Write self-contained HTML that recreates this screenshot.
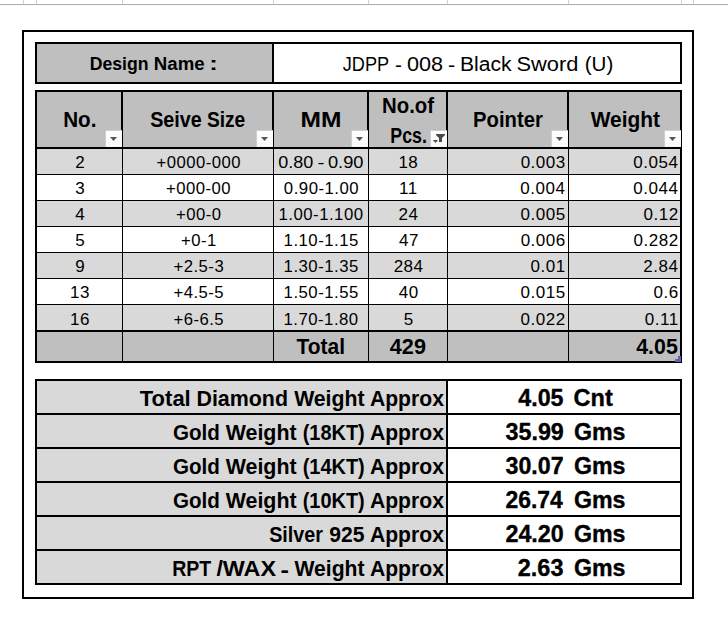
<!DOCTYPE html>
<html>
<head>
<meta charset="utf-8">
<title>Sheet</title>
<style>
html,body{margin:0;padding:0;background:#fff;}
#s{position:relative;width:728px;height:640px;overflow:hidden;background:#fff;font-family:"Liberation Sans", sans-serif;color:#000;}
#s i{position:absolute;display:block;}
#s b,#s u{position:absolute;display:block;white-space:pre;line-height:1;transform-origin:0 0;text-decoration:none;}
#s u{font-weight:normal;}
#s b{font-weight:bold;}
#s .fb{position:absolute;width:17px;height:17px;box-sizing:border-box;border-left:1px solid #cecece;border-top:1px solid #cecece;background:linear-gradient(#ffffff,#f6f6f6);}
#s .fb svg{position:absolute;left:0;top:0;}
</style>
</head>
<body>
<div id="s">
<i style="left:23px;top:0px;width:1px;height:4px;background:#d2d2d2"></i>
<i style="left:36px;top:0px;width:1px;height:4px;background:#d2d2d2"></i>
<i style="left:122px;top:0px;width:1px;height:4px;background:#d2d2d2"></i>
<i style="left:273px;top:0px;width:1px;height:4px;background:#d2d2d2"></i>
<i style="left:368px;top:0px;width:1px;height:4px;background:#d2d2d2"></i>
<i style="left:447px;top:0px;width:1px;height:4px;background:#d2d2d2"></i>
<i style="left:568px;top:0px;width:1px;height:4px;background:#d2d2d2"></i>
<i style="left:681px;top:0px;width:1px;height:4px;background:#d2d2d2"></i>
<i style="left:693px;top:0px;width:1px;height:4px;background:#d2d2d2"></i>
<i style="left:0px;top:4px;width:728px;height:1px;background:#ababab"></i>
<i style="left:22px;top:30px;width:672px;height:2px;background:#000"></i>
<i style="left:22px;top:597px;width:672px;height:2px;background:#000"></i>
<i style="left:22px;top:30px;width:2px;height:569px;background:#000"></i>
<i style="left:692px;top:30px;width:2px;height:569px;background:#000"></i>
<i style="left:35px;top:42px;width:647px;height:42px;background:#000"></i>
<i style="left:37px;top:44px;width:235px;height:38px;background:#bfbfbf"></i>
<i style="left:274px;top:44px;width:406px;height:38px;background:#fff"></i>
<i style="left:35px;top:90px;width:647px;height:273px;background:#000"></i>
<i style="left:37px;top:92px;width:84px;height:55px;background:#bfbfbf"></i>
<i style="left:123px;top:92px;width:149px;height:55px;background:#bfbfbf"></i>
<i style="left:274px;top:92px;width:93px;height:55px;background:#bfbfbf"></i>
<i style="left:369px;top:92px;width:77px;height:55px;background:#bfbfbf"></i>
<i style="left:448px;top:92px;width:119px;height:55px;background:#bfbfbf"></i>
<i style="left:569px;top:92px;width:111px;height:55px;background:#bfbfbf"></i>
<i style="left:37px;top:149px;width:85px;height:25px;background:#d9d9d9"></i>
<i style="left:123px;top:149px;width:150px;height:25px;background:#d9d9d9"></i>
<i style="left:274px;top:149px;width:94px;height:25px;background:#d9d9d9"></i>
<i style="left:369px;top:149px;width:78px;height:25px;background:#d9d9d9"></i>
<i style="left:448px;top:149px;width:120px;height:25px;background:#d9d9d9"></i>
<i style="left:569px;top:149px;width:111px;height:25px;background:#d9d9d9"></i>
<i style="left:37px;top:175px;width:85px;height:25px;background:#fff"></i>
<i style="left:123px;top:175px;width:150px;height:25px;background:#fff"></i>
<i style="left:274px;top:175px;width:94px;height:25px;background:#fff"></i>
<i style="left:369px;top:175px;width:78px;height:25px;background:#fff"></i>
<i style="left:448px;top:175px;width:120px;height:25px;background:#fff"></i>
<i style="left:569px;top:175px;width:111px;height:25px;background:#fff"></i>
<i style="left:37px;top:201px;width:85px;height:25px;background:#d9d9d9"></i>
<i style="left:123px;top:201px;width:150px;height:25px;background:#d9d9d9"></i>
<i style="left:274px;top:201px;width:94px;height:25px;background:#d9d9d9"></i>
<i style="left:369px;top:201px;width:78px;height:25px;background:#d9d9d9"></i>
<i style="left:448px;top:201px;width:120px;height:25px;background:#d9d9d9"></i>
<i style="left:569px;top:201px;width:111px;height:25px;background:#d9d9d9"></i>
<i style="left:37px;top:227px;width:85px;height:25px;background:#fff"></i>
<i style="left:123px;top:227px;width:150px;height:25px;background:#fff"></i>
<i style="left:274px;top:227px;width:94px;height:25px;background:#fff"></i>
<i style="left:369px;top:227px;width:78px;height:25px;background:#fff"></i>
<i style="left:448px;top:227px;width:120px;height:25px;background:#fff"></i>
<i style="left:569px;top:227px;width:111px;height:25px;background:#fff"></i>
<i style="left:37px;top:253px;width:85px;height:25px;background:#d9d9d9"></i>
<i style="left:123px;top:253px;width:150px;height:25px;background:#d9d9d9"></i>
<i style="left:274px;top:253px;width:94px;height:25px;background:#d9d9d9"></i>
<i style="left:369px;top:253px;width:78px;height:25px;background:#d9d9d9"></i>
<i style="left:448px;top:253px;width:120px;height:25px;background:#d9d9d9"></i>
<i style="left:569px;top:253px;width:111px;height:25px;background:#d9d9d9"></i>
<i style="left:37px;top:279px;width:85px;height:25px;background:#fff"></i>
<i style="left:123px;top:279px;width:150px;height:25px;background:#fff"></i>
<i style="left:274px;top:279px;width:94px;height:25px;background:#fff"></i>
<i style="left:369px;top:279px;width:78px;height:25px;background:#fff"></i>
<i style="left:448px;top:279px;width:120px;height:25px;background:#fff"></i>
<i style="left:569px;top:279px;width:111px;height:25px;background:#fff"></i>
<i style="left:37px;top:305px;width:85px;height:25px;background:#d9d9d9"></i>
<i style="left:123px;top:305px;width:150px;height:25px;background:#d9d9d9"></i>
<i style="left:274px;top:305px;width:94px;height:25px;background:#d9d9d9"></i>
<i style="left:369px;top:305px;width:78px;height:25px;background:#d9d9d9"></i>
<i style="left:448px;top:305px;width:120px;height:25px;background:#d9d9d9"></i>
<i style="left:569px;top:305px;width:111px;height:25px;background:#d9d9d9"></i>
<i style="left:37px;top:332px;width:85px;height:29px;background:#bfbfbf"></i>
<i style="left:123px;top:332px;width:150px;height:29px;background:#bfbfbf"></i>
<i style="left:274px;top:332px;width:94px;height:29px;background:#bfbfbf"></i>
<i style="left:369px;top:332px;width:78px;height:29px;background:#bfbfbf"></i>
<i style="left:448px;top:332px;width:120px;height:29px;background:#bfbfbf"></i>
<i style="left:569px;top:332px;width:111px;height:29px;background:#bfbfbf"></i>
<i style="left:35px;top:379px;width:647px;height:206px;background:#000"></i>
<i style="left:37px;top:381px;width:409px;height:32px;background:#d9d9d9"></i>
<i style="left:448px;top:381px;width:232px;height:32px;background:#fff"></i>
<i style="left:37px;top:415px;width:409px;height:32px;background:#d9d9d9"></i>
<i style="left:448px;top:415px;width:232px;height:32px;background:#fff"></i>
<i style="left:37px;top:449px;width:409px;height:32px;background:#d9d9d9"></i>
<i style="left:448px;top:449px;width:232px;height:32px;background:#fff"></i>
<i style="left:37px;top:483px;width:409px;height:32px;background:#d9d9d9"></i>
<i style="left:448px;top:483px;width:232px;height:32px;background:#fff"></i>
<i style="left:37px;top:517px;width:409px;height:32px;background:#d9d9d9"></i>
<i style="left:448px;top:517px;width:232px;height:32px;background:#fff"></i>
<i style="left:37px;top:551px;width:409px;height:32px;background:#d9d9d9"></i>
<i style="left:448px;top:551px;width:232px;height:32px;background:#fff"></i>
<div class="fb" style="left:105px;top:130px"><svg width="16" height="16" viewBox="0 0 16 16"><path d="M4 6h7l-3.5 4z" fill="#555"/></svg></div>
<div class="fb" style="left:256px;top:130px"><svg width="16" height="16" viewBox="0 0 16 16"><path d="M4 6h7l-3.5 4z" fill="#555"/></svg></div>
<div class="fb" style="left:351px;top:130px"><svg width="16" height="16" viewBox="0 0 16 16"><path d="M4 6h7l-3.5 4z" fill="#555"/></svg></div>
<div class="fb" style="left:430px;top:130px"><svg width="16" height="16" viewBox="0 0 16 16"><path d="M5 3h9v1l-3 3v4h-3v-4l-3-3z" fill="#4a4a4a"/><path d="M2 9h5l-2.5 3z" fill="#4a4a4a"/></svg></div>
<div class="fb" style="left:551px;top:130px"><svg width="16" height="16" viewBox="0 0 16 16"><path d="M4 6h7l-3.5 4z" fill="#555"/></svg></div>
<div class="fb" style="left:664px;top:130px"><svg width="16" height="16" viewBox="0 0 16 16"><path d="M4 6h7l-3.5 4z" fill="#555"/></svg></div>
<i style="left:678px;top:356px;width:3px;height:6px;background:#5b66a8"></i>
<i style="left:675px;top:359px;width:6px;height:3px;background:#5b66a8"></i>
<b style="left:89px;top:55px;font-size:18.90px;transform:translateX(0.72px) scaleX(0.9347)">Design</b>
<b style="left:153px;top:55px;font-size:18.90px;transform:translateX(0.82px) scaleX(0.9860)">Name</b>
<b style="left:209px;top:55px;font-size:18.90px;transform:translateX(0.27px) scaleX(1.3603)">:</b>
<u style="left:342px;top:54px;font-size:20.35px;transform:translateX(0.78px) scaleX(0.8911)">JDPP</u>
<u style="left:394px;top:55px;font-size:20.35px;transform:translateX(1.00px) scaleX(1.0183)">-</u>
<u style="left:406px;top:54px;font-size:20.35px;transform:translateX(0.90px) scaleX(1.0626)">008</u>
<u style="left:447px;top:55px;font-size:20.35px;transform:translateX(0.97px) scaleX(1.0622)">-</u>
<u style="left:459px;top:54px;font-size:20.35px;transform:translateX(1.00px) scaleX(1.0365)">Black</u>
<u style="left:516px;top:54px;font-size:20.35px;transform:translateX(0.50px) scaleX(1.0746)">Sword</u>
<u style="left:584px;top:54px;font-size:20.35px;transform:translateX(0.72px) scaleX(1.0095)">(U)</u>
<b style="left:63px;top:109px;font-size:22.00px;transform:translateX(0.16px) scaleX(0.9389)">No.</b>
<b style="left:150px;top:109px;font-size:22.00px;transform:translateX(0.14px) scaleX(0.8979)">Seive</b>
<b style="left:206px;top:109px;font-size:22.00px;transform:translateX(0.94px) scaleX(0.8709)">Size</b>
<b style="left:300px;top:109px;font-size:22.00px;transform:translateX(0.55px) scaleX(1.1159)">MM</b>
<b style="left:382px;top:95px;font-size:22.00px;transform:translateX(0.02px) scaleX(0.9254)">No.of</b>
<b style="left:390px;top:125px;font-size:22.00px;transform:translateX(0.35px) scaleX(0.8078)">Pcs.</b>
<b style="left:473px;top:109px;font-size:22.00px;transform:translateX(0.07px) scaleX(0.9202)">Pointer</b>
<b style="left:590px;top:109px;font-size:22.00px;transform:translateX(0.71px) scaleX(0.9512)">Weight</b>
<u style="left:75px;top:154px;font-size:17.00px;transform:translateX(0.22px);letter-spacing:0.50px">2</u>
<u style="left:156px;top:154px;font-size:17.00px;transform:translateX(0.48px) scaleX(0.9800);letter-spacing:0.50px">+0000-000</u>
<u style="left:278px;top:154px;font-size:17.00px;transform:translateX(0.31px) scaleX(1.0583)">0.80</u>
<u style="left:317px;top:154px;font-size:17.00px;transform:translateX(0.54px) scaleX(1.2431)">-</u>
<u style="left:327px;top:154px;font-size:17.00px;transform:translateX(0.98px) scaleX(1.0726)">0.90</u>
<u style="left:398px;top:154px;font-size:17.00px;transform:translateX(0.39px);letter-spacing:0.50px">18</u>
<u style="left:520px;top:154px;font-size:17.00px;transform:translateX(0.63px);letter-spacing:0.50px">0.003</u>
<u style="left:633px;top:154px;font-size:17.00px;transform:translateX(0.34px);letter-spacing:0.50px">0.054</u>
<u style="left:75px;top:180px;font-size:17.00px;transform:translateX(0.24px);letter-spacing:0.50px">3</u>
<u style="left:166px;top:180px;font-size:17.00px;transform:translateX(0.02px) scaleX(0.9800);letter-spacing:0.50px">+000-00</u>
<u style="left:283px;top:180px;font-size:17.00px;transform:translateX(0.87px) scaleX(0.9850);letter-spacing:0.50px">0.90-1.00</u>
<u style="left:399px;top:180px;font-size:17.00px;transform:translateX(0.11px);letter-spacing:0.50px">11</u>
<u style="left:520px;top:180px;font-size:17.00px;transform:translateX(0.34px);letter-spacing:0.50px">0.004</u>
<u style="left:633px;top:180px;font-size:17.00px;transform:translateX(0.34px);letter-spacing:0.50px">0.044</u>
<u style="left:75px;top:206px;font-size:17.00px;transform:translateX(0.35px);letter-spacing:0.50px">4</u>
<u style="left:175px;top:206px;font-size:17.00px;transform:translateX(0.97px) scaleX(0.9800);letter-spacing:0.50px">+00-0</u>
<u style="left:278px;top:206px;font-size:17.00px;transform:translateX(0.52px) scaleX(0.9850);letter-spacing:0.50px">1.00-1.100</u>
<u style="left:398px;top:206px;font-size:17.00px;transform:translateX(0.60px);letter-spacing:0.50px">24</u>
<u style="left:520px;top:206px;font-size:17.00px;transform:translateX(0.55px);letter-spacing:0.50px">0.005</u>
<u style="left:643px;top:206px;font-size:17.00px;transform:translateX(0.53px);letter-spacing:0.50px">0.12</u>
<u style="left:75px;top:232px;font-size:17.00px;transform:translateX(0.25px);letter-spacing:0.50px">5</u>
<u style="left:180px;top:232px;font-size:17.00px;transform:translateX(0.91px) scaleX(0.9800);letter-spacing:0.50px">+0-1</u>
<u style="left:283px;top:232px;font-size:17.00px;transform:translateX(0.57px) scaleX(0.9850);letter-spacing:0.50px">1.10-1.15</u>
<u style="left:398px;top:232px;font-size:17.00px;transform:translateX(0.98px);letter-spacing:0.50px">47</u>
<u style="left:520px;top:232px;font-size:17.00px;transform:translateX(0.63px);letter-spacing:0.50px">0.006</u>
<u style="left:633px;top:232px;font-size:17.00px;transform:translateX(0.58px);letter-spacing:0.50px">0.282</u>
<u style="left:75px;top:258px;font-size:17.00px;transform:translateX(0.24px);letter-spacing:0.50px">9</u>
<u style="left:173px;top:258px;font-size:17.00px;transform:translateX(0.51px) scaleX(0.9800);letter-spacing:0.50px">+2.5-3</u>
<u style="left:283px;top:258px;font-size:17.00px;transform:translateX(0.57px) scaleX(0.9850);letter-spacing:0.50px">1.30-1.35</u>
<u style="left:393px;top:258px;font-size:17.00px;transform:translateX(0.63px);letter-spacing:0.50px">284</u>
<u style="left:530px;top:258px;font-size:17.00px;transform:translateX(0.51px);letter-spacing:0.50px">0.01</u>
<u style="left:643px;top:258px;font-size:17.00px;transform:translateX(0.29px);letter-spacing:0.50px">2.84</u>
<u style="left:70px;top:284px;font-size:17.00px;transform:translateX(0.10px);letter-spacing:0.50px">13</u>
<u style="left:173px;top:284px;font-size:17.00px;transform:translateX(0.48px) scaleX(0.9800);letter-spacing:0.50px">+4.5-5</u>
<u style="left:283px;top:284px;font-size:17.00px;transform:translateX(0.57px) scaleX(0.9850);letter-spacing:0.50px">1.50-1.55</u>
<u style="left:398px;top:284px;font-size:17.00px;transform:translateX(0.86px);letter-spacing:0.50px">40</u>
<u style="left:520px;top:284px;font-size:17.00px;transform:translateX(0.55px);letter-spacing:0.50px">0.015</u>
<u style="left:653px;top:284px;font-size:17.00px;transform:translateX(0.54px);letter-spacing:0.50px">0.6</u>
<u style="left:69px;top:311px;font-size:17.00px;transform:translateX(0.99px);letter-spacing:0.50px">16</u>
<u style="left:173px;top:311px;font-size:17.00px;transform:translateX(0.48px) scaleX(0.9800);letter-spacing:0.50px">+6-6.5</u>
<u style="left:283px;top:311px;font-size:17.00px;transform:translateX(0.49px) scaleX(0.9850);letter-spacing:0.50px">1.70-1.80</u>
<u style="left:403px;top:311px;font-size:17.00px;transform:translateX(0.65px);letter-spacing:0.50px">5</u>
<u style="left:520px;top:311px;font-size:17.00px;transform:translateX(0.58px);letter-spacing:0.50px">0.022</u>
<u style="left:644px;top:311px;font-size:17.00px;transform:translateX(0.77px);letter-spacing:0.50px">0.11</u>
<b style="left:296px;top:336px;font-size:22.00px;transform:translateX(0.42px) scaleX(0.9535)">Total</b>
<b style="left:389px;top:336px;font-size:22.00px;transform:translateX(0.84px) scaleX(0.9826)">429</b>
<b style="left:636px;top:336px;font-size:22.00px;transform:translateX(0.22px) scaleX(0.9699)">4.05</b>
<b style="left:139px;top:388px;font-size:22.00px;transform:translateX(0.82px) scaleX(0.9996)">Total</b>
<b style="left:196px;top:388px;font-size:22.00px;transform:translateX(0.44px) scaleX(0.9729)">Diamond</b>
<b style="left:294px;top:388px;font-size:22.00px;transform:translateX(0.13px) scaleX(0.9656)">Weight</b>
<b style="left:369px;top:388px;font-size:22.00px;transform:translateX(0.92px) scaleX(0.9614)">Approx</b>
<b style="left:518px;top:387px;font-size:23.20px;transform:translateX(0.22px) scaleX(1.0040);-webkit-text-stroke:0.35px #000">4.05</b>
<b style="left:573px;top:387px;font-size:23.20px;transform:translateX(0.47px) scaleX(1.0165);-webkit-text-stroke:0.35px #000">Cnt</b>
<b style="left:172px;top:422px;font-size:22.00px;transform:translateX(0.90px) scaleX(0.9367)">Gold</b>
<b style="left:225px;top:422px;font-size:22.00px;transform:translateX(0.71px) scaleX(0.9722)">Weight</b>
<b style="left:302px;top:422px;font-size:22.00px;transform:translateX(0.66px) scaleX(0.9069)">(18KT)</b>
<b style="left:369px;top:422px;font-size:22.00px;transform:translateX(0.92px) scaleX(0.9614)">Approx</b>
<b style="left:505px;top:421px;font-size:23.20px;transform:translateX(0.50px) scaleX(1.0044);-webkit-text-stroke:0.35px #000">35.99</b>
<b style="left:573px;top:421px;font-size:23.20px;transform:translateX(0.91px) scaleX(0.9996);-webkit-text-stroke:0.35px #000">Gms</b>
<b style="left:172px;top:456px;font-size:22.00px;transform:translateX(0.90px) scaleX(0.9367)">Gold</b>
<b style="left:225px;top:456px;font-size:22.00px;transform:translateX(0.71px) scaleX(0.9722)">Weight</b>
<b style="left:302px;top:456px;font-size:22.00px;transform:translateX(0.66px) scaleX(0.9069)">(14KT)</b>
<b style="left:369px;top:456px;font-size:22.00px;transform:translateX(0.92px) scaleX(0.9614)">Approx</b>
<b style="left:505px;top:455px;font-size:23.20px;transform:translateX(0.52px) scaleX(1.0012);-webkit-text-stroke:0.35px #000">30.07</b>
<b style="left:573px;top:455px;font-size:23.20px;transform:translateX(0.91px) scaleX(0.9996);-webkit-text-stroke:0.35px #000">Gms</b>
<b style="left:172px;top:490px;font-size:22.00px;transform:translateX(0.90px) scaleX(0.9367)">Gold</b>
<b style="left:225px;top:490px;font-size:22.00px;transform:translateX(0.71px) scaleX(0.9722)">Weight</b>
<b style="left:302px;top:490px;font-size:22.00px;transform:translateX(0.66px) scaleX(0.9069)">(10KT)</b>
<b style="left:369px;top:490px;font-size:22.00px;transform:translateX(0.92px) scaleX(0.9614)">Approx</b>
<b style="left:505px;top:489px;font-size:23.20px;transform:translateX(0.41px) scaleX(0.9892);-webkit-text-stroke:0.35px #000">26.74</b>
<b style="left:573px;top:489px;font-size:23.20px;transform:translateX(0.91px) scaleX(0.9996);-webkit-text-stroke:0.35px #000">Gms</b>
<b style="left:269px;top:524px;font-size:22.00px;transform:translateX(0.14px) scaleX(0.8957)">Silver</b>
<b style="left:329px;top:524px;font-size:22.00px;transform:translateX(0.20px) scaleX(0.9576)">925</b>
<b style="left:369px;top:524px;font-size:22.00px;transform:translateX(0.92px) scaleX(0.9614)">Approx</b>
<b style="left:505px;top:523px;font-size:23.20px;transform:translateX(0.40px) scaleX(1.0067);-webkit-text-stroke:0.35px #000">24.20</b>
<b style="left:573px;top:523px;font-size:23.20px;transform:translateX(0.91px) scaleX(0.9996);-webkit-text-stroke:0.35px #000">Gms</b>
<b style="left:172px;top:558px;font-size:22.00px;transform:translateX(0.22px) scaleX(0.8874)">RPT</b>
<b style="left:216px;top:558px;font-size:22.00px;transform:translateX(0.39px) scaleX(1.0593)">/WAX</b>
<b style="left:280px;top:559px;font-size:22.00px;transform:translateX(0.39px) scaleX(1.1543)">-</b>
<b style="left:294px;top:558px;font-size:22.00px;transform:translateX(0.42px) scaleX(0.9611)">Weight</b>
<b style="left:369px;top:558px;font-size:22.00px;transform:translateX(0.92px) scaleX(0.9614)">Approx</b>
<b style="left:517px;top:557px;font-size:23.20px;transform:translateX(0.77px) scaleX(1.0120);-webkit-text-stroke:0.35px #000">2.63</b>
<b style="left:573px;top:557px;font-size:23.20px;transform:translateX(0.91px) scaleX(0.9996);-webkit-text-stroke:0.35px #000">Gms</b>
</div>
</body>
</html>
